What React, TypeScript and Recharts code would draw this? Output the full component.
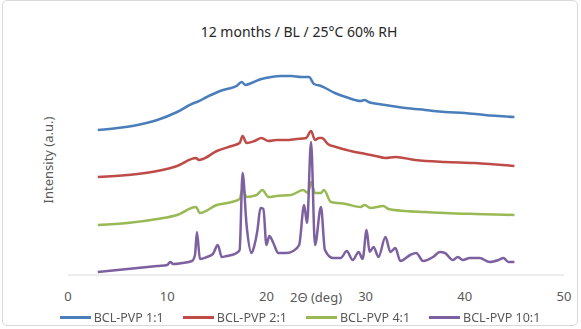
import { LineChart, Line, XAxis, YAxis, Label } from 'recharts';

const title = '12 months / BL / 25°C 60% RH';
const xTicks = [0, 10, 20, 30, 40, 50];

const names = ['BCL-PVP 1:1', 'BCL-PVP 2:1', 'BCL-PVP 4:1', 'BCL-PVP 10:1'];
const colors = ['#4a7ebb', '#be4b48', '#98b954', '#7d60a0'];

const theta1 = [3, 5, 7, 9, 11, 12.7, 13, 14, 15.1, 16, 17, 17.5, 17.9, 18.5, 19.5, 20.5, 21.5, 22.5, 23.5, 24.3, 24.8, 25.5, 26.9, 28, 29.5, 29.9, 30.3, 32, 34, 36, 38, 40, 42, 45];
const int1 = [145, 147, 150, 155, 163, 172, 173, 178, 183, 186, 189, 193, 190, 192, 196, 198, 199, 199, 198, 198, 191, 189, 182, 178, 174, 175, 173, 170, 167, 165, 163, 162, 160, 158];

const theta2 = [3, 6, 9, 11, 12.9, 13.2, 13.6, 15, 16.5, 17.3, 17.6, 18, 18.8, 19.5, 20.2, 21, 22, 23, 24, 24.5, 24.9, 25.3, 25.6, 26.2, 27, 28.5, 30, 31, 32, 33, 35, 38, 41, 45];
const int2 = [98, 100, 104, 109, 117, 115, 116, 124, 129, 132, 139, 132, 134, 137, 134, 135, 135, 136, 137, 144, 135, 137, 137, 131, 128, 124, 121, 119, 117, 118, 115, 113, 112, 109];

const theta3 = [3, 6, 9, 11, 12.9, 13.3, 15, 16.5, 17.3, 17.6, 18, 19, 19.6, 20.2, 21, 22.5, 23.7, 24.2, 24.5, 24.9, 25.5, 25.8, 26.5, 28, 29.5, 29.9, 30.5, 31.8, 32.3, 34, 36, 38, 41, 45];
const int3 = [50, 52, 56, 60, 68, 62, 70, 73, 76, 86, 78, 80, 85, 78, 79, 80, 85, 82, 93, 82, 82, 85, 73, 71, 68, 70, 67, 69, 66, 64, 63, 62, 61, 60];

const theta4 = [3, 5, 7, 9, 10, 10.3, 10.6, 11.5, 12.5, 12.8, 13.0, 13.3, 14, 14.6, 15.1, 15.5, 16, 16.5, 17, 17.3, 17.6, 18.0, 18.5, 18.8, 19.1, 19.4, 19.7, 20.0, 20.3, 20.7, 21.2, 22, 22.7, 23.3, 23.8, 24.1, 24.5, 24.9, 25.5, 25.9, 26.7, 27.5, 28.1, 28.7, 29.3, 29.7, 30.1, 30.4, 30.8, 31.3, 32.0, 32.5, 33.0, 33.5, 34.5, 35.1, 35.8, 36.8, 37.5, 38.0, 38.8, 39.3, 39.8, 40.5, 41.5, 42.5, 43.4, 43.9, 44.4, 45];
const int4 = [3, 5, 7, 9, 10, 13, 11, 12, 14, 20, 43, 16, 18, 21, 30, 18, 19, 20, 22, 25, 102, 50, 22, 30, 45, 67, 66, 30, 39, 32, 22, 22, 24, 30, 70, 52, 133, 30, 68, 25, 17, 17, 24, 15, 23, 16, 45, 23, 28, 18, 38, 23, 27, 14, 20, 22, 14, 18, 23, 22, 15, 18, 15, 17, 17, 13, 15, 17, 13, 13];

const zip = (xs: number[], ys: number[]) => xs.map((x, i) => ({ x, y: ys[i] }));
const series = [zip(theta1, int1), zip(theta2, int2), zip(theta3, int3), zip(theta4, int4)];

const font = '"Noto Sans", sans-serif';

const App = () => {
  return (
    <div
      style={{
        position: 'fixed',
        left: 0,
        top: 0,
        width: 581,
        height: 329,
        background: '#fff',
        fontFamily: font,
      }}
    >
      <div
        style={{
          position: 'absolute',
          left: 2,
          top: 0,
          width: 576,
          height: 326,
          border: '1px solid #d9d9d9',
          borderRadius: 5,
          boxSizing: 'border-box',
        }}
      />
      <div
        style={{
          position: 'absolute',
          left: 0,
          top: 22,
          width: 598,
          textAlign: 'center',
          fontSize: 14,
          color: '#262626',
        }}
      >
        {title}
      </div>
      <LineChart
        width={581}
        height={329}
        margin={{ top: 45, right: 17, left: 0, bottom: 24 }}
        style={{ position: 'absolute', left: 0, top: 0 }}
      >
        <XAxis
          type="number"
          dataKey="x"
          domain={[0, 50]}
          ticks={xTicks}
          tickLine={false}
          tickMargin={11}
          axisLine={{ stroke: '#d9d9d9' }}
          tick={{ fill: '#595959', fontSize: 13, fontFamily: font }}
          height={30}
        >
          <Label
            value="2Θ (deg)"
            position="insideBottom"
            offset={3}
            style={{ fill: '#595959', fontSize: 13, fontFamily: font }}
          />
        </XAxis>
        <YAxis
          type="number"
          domain={[0, 230]}
          width={68}
          tick={false}
          tickLine={false}
          axisLine={false}
        >
          <Label
            value="Intensity (a.u.)"
            angle={-90}
            position="insideLeft"
            offset={48}
            style={{ fill: '#595959', fontSize: 13, fontFamily: font, textAnchor: 'middle' }}
          />
        </YAxis>
        {series.map((d, i) => (
          <Line
            key={names[i]}
            data={d}
            dataKey="y"
            name={names[i]}
            type="monotone"
            stroke={colors[i]}
            strokeWidth={2.5}
            dot={false}
            isAnimationActive={false}
          />
        ))}
      </LineChart>
      <div
        style={{
          position: 'absolute',
          left: 0,
          top: 309,
          width: 600,
          display: 'flex',
          justifyContent: 'center',
          gap: 19,
          fontSize: 12.5,
          color: '#595959',
        }}
      >
        {names.map((n, i) => (
          <div key={n} style={{ display: 'flex', alignItems: 'center', gap: 3 }}>
            <span style={{ display: 'inline-block', width: 31, height: 3, background: colors[i] }} />
            <span>{n}</span>
          </div>
        ))}
      </div>
    </div>
  );
};

export default App;
